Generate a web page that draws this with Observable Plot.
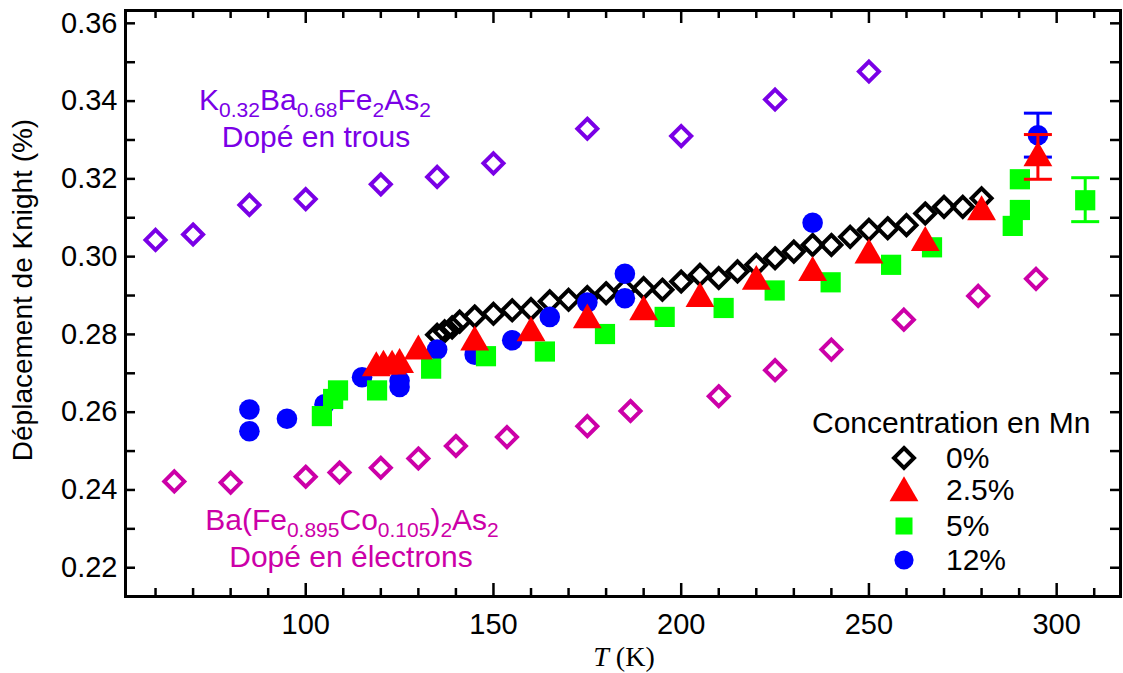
<!DOCTYPE html>
<html><head><meta charset="utf-8">
<script src="https://cdn.jsdelivr.net/npm/d3@7"></script>
<script src="https://cdn.jsdelivr.net/npm/@observablehq/plot@0.6"></script>
<style>
body{margin:0;background:#fff;}
#wrap{position:relative;width:1123px;height:673px;overflow:hidden;}
</style></head><body><div id="wrap"></div>
<script>
// ---- Data ----
const holeT = [60, 70, 85, 100, 120, 135, 150, 175, 200, 225, 250];
const holeK = [0.3043, 0.3057, 0.3133, 0.3148, 0.3186, 0.3205, 0.3240, 0.3329, 0.3310, 0.3404, 0.3476];

const elecT = [65, 80, 100, 109, 120, 130, 140, 153.6, 175, 186.5, 210, 225, 240, 259.3, 279.1, 294.5];
const elecK = [0.2422, 0.2419, 0.2434, 0.2445, 0.2457, 0.2481, 0.2513, 0.2536, 0.2564, 0.2603, 0.2641, 0.2708, 0.2761, 0.2838, 0.2899, 0.2943];

const mn0T = [135, 137, 139, 141, 145, 150, 155, 160, 165, 170, 175, 180, 185, 190, 195, 200, 205, 210, 215, 220, 225, 230, 235, 240, 245, 250, 255, 260, 265, 270, 275, 280];
const mn0K = [0.2799, 0.2808, 0.2818, 0.2833, 0.2846, 0.2853, 0.2862, 0.2865, 0.2885, 0.2889, 0.2896, 0.2906, 0.2915, 0.2919, 0.2915, 0.2936, 0.2953, 0.2945, 0.2962, 0.2979, 0.2996, 0.3013, 0.3030, 0.3030, 0.3051, 0.3069, 0.3073, 0.3081, 0.3111, 0.3128, 0.3128, 0.3150];

const mn25T = [118.8, 120.7, 123, 125, 130, 145, 160, 175, 190, 205, 220, 235, 250, 265, 280, 295];
const mn25K = [0.2714, 0.2718, 0.2718, 0.2722, 0.2757, 0.2780, 0.2804, 0.2837, 0.2858, 0.2892, 0.2936, 0.2959, 0.3004, 0.3036, 0.3115, 0.3254];

const mn5T = [104.3, 107.3, 108.6, 119, 133.4, 148, 163.7, 179.7, 195.6, 211.3, 224.9, 239.8, 255.9, 266.8, 288.3, 290.2, 290.2, 307.6];
const mn5K = [0.2590, 0.2634, 0.2656, 0.2656, 0.2712, 0.2744, 0.2756, 0.2801, 0.2845, 0.2868, 0.2913, 0.2934, 0.2979, 0.3024, 0.3079, 0.3120, 0.3199, 0.3145];

const mn12T = [85, 85, 95, 105, 115, 125, 125, 135, 145, 155, 165, 175, 185, 185, 235, 295];
const mn12K = [0.2607, 0.2551, 0.2583, 0.2620, 0.2690, 0.2681, 0.2665, 0.2761, 0.2748, 0.2785, 0.2845, 0.2882, 0.2893, 0.2956, 0.3087, 0.3312];

// error bars: [T, low, high]
const err12 = [[295, 0.3256, 0.3369]];
const err25 = [[295, 0.3199, 0.3314]];
const err5  = [[307.6, 0.3090, 0.3203]];

const xMajor = [100, 150, 200, 250, 300];
const xMinor = [60, 70, 80, 90, 110, 120, 130, 140, 160, 170, 180, 190, 210, 220, 230, 240, 260, 270, 280, 290, 310];
const xLabels = [100, 150, 200, 250, 300];
const yMajor = [0.22, 0.24, 0.26, 0.28, 0.30, 0.32, 0.34, 0.36];
const yMinor = [0.23, 0.25, 0.27, 0.29, 0.31, 0.33, 0.35];

const legendLabels = ["0%", "2.5%", "5%", "12%"];

// ---- Colours / styles ----
const cHole = "#7a00e6", cElec = "#cc00a8";
const cRed = "#ff0000", cGreen = "#00ff00", cBlue = "#0000ff";

const W = 1123, H = 673, mL = 125, mR = 3, mT = 10, mB = 77;
const fw = W - mL - mR, fh = H - mT - mB;

const zip = (T, K) => T.map((t, i) => ({T: t, K: K[i]}));
const errRows = e => e.map(([T, lo, hi]) => ({T, lo, hi}));

const capSymbol = {draw(ctx, size) { const w = Math.sqrt(size); ctx.moveTo(-w, 0); ctx.lineTo(w, 0); }};

function errMarks(e, color) {
  const rows = errRows(e);
  return [
    Plot.ruleX(rows, {x: "T", y1: "lo", y2: "hi", stroke: color, strokeWidth: 3}),
    Plot.dot(rows, {x: "T", y: "lo", symbol: capSymbol, r: 7.9, fill: "none", stroke: color, strokeWidth: 3}),
    Plot.dot(rows, {x: "T", y: "hi", symbol: capSymbol, r: 7.9, fill: "none", stroke: color, strokeWidth: 3})
  ];
}

const tk = {stroke: "black", strokeWidth: 2.5};
const yAll = yMajor.concat(yMinor);

const plot = Plot.plot({
  width: W, height: H,
  marginLeft: mL, marginRight: mR, marginTop: mT, marginBottom: mB,
  style: {fontFamily: "'Liberation Sans', Arial, sans-serif", background: "white"},
  x: {domain: [52, 317]},
  y: {domain: [0.2126, 0.3633]},
  marks: [
    Plot.dot(zip(holeT, holeK), {x: "T", y: "K", symbol: "diamond2", r: 9, fill: "none", stroke: cHole, strokeWidth: 4}),
    Plot.dot(zip(elecT, elecK), {x: "T", y: "K", symbol: "diamond2", r: 9, fill: "none", stroke: cElec, strokeWidth: 4}),
    Plot.dot(zip(mn0T, mn0K), {x: "T", y: "K", symbol: "diamond2", r: 9, fill: "none", stroke: "black", strokeWidth: 4}),
    ...errMarks(err12, cBlue),
    Plot.dot(zip(mn12T, mn12K), {x: "T", y: "K", symbol: "circle", r: 10.3, fill: cBlue}),
    Plot.dot(zip(mn5T, mn5K), {x: "T", y: "K", symbol: "square", r: 11.4, fill: cGreen}),
    ...errMarks(err5, cGreen),
    ...errMarks(err25, cRed),
    Plot.dot(zip(mn25T, mn25K), {x: "T", y: "K", symbol: "triangle", r: 10.7, fill: cRed}),
    // inward ticks on all four sides
    Plot.tickX(xMajor, {x: d => d, insetTop: fh - 13, ...tk}),
    Plot.tickX(xMinor, {x: d => d, insetTop: fh - 8, ...tk}),
    Plot.tickX(xMajor, {x: d => d, insetBottom: fh - 13, ...tk}),
    Plot.tickX(xMinor, {x: d => d, insetBottom: fh - 8, ...tk}),
    Plot.tickY(yAll, {y: d => d, insetRight: fw - 10, ...tk}),
    Plot.tickY(yAll, {y: d => d, insetLeft: fw - 10, ...tk}),
    // tick labels
    Plot.axisX({anchor: "bottom", ticks: xLabels, tickSize: 0, tickPadding: 17, fontSize: 29, label: null, fill: "black"}),
    Plot.axisY({anchor: "left", ticks: yMajor, tickSize: 0, tickPadding: 8, fontSize: 29, tickFormat: d3.format(".2f"), label: null, fill: "black"}),
    Plot.frame({stroke: "black", strokeWidth: 3})
  ]
});

const wrap = document.getElementById("wrap");
wrap.appendChild(plot);

const svg = d3.select(plot);
const FF = "'Liberation Sans', Arial, sans-serif";

// annotations with subscripts
function richText(x, y, parts, color, size, subSize) {
  const t = svg.append("text").attr("x", x).attr("y", y).attr("text-anchor", "middle")
    .attr("fill", color).attr("font-family", FF).attr("font-size", size);
  let low = false;
  parts.forEach(([s, sub]) => {
    const ts = t.append("tspan").text(s);
    if (sub) { ts.attr("font-size", subSize).attr("dy", low ? 0 : 7); low = true; }
    else { ts.attr("dy", low ? -7 : 0); low = false; }
  });
}
richText(315, 110, [["K"], ["0.32", 1], ["Ba"], ["0.68", 1], ["Fe"], ["2", 1], ["As"], ["2", 1]], cHole, 30, 21);
svg.append("text").attr("x", 316).attr("y", 147).attr("text-anchor", "middle").attr("fill", cHole)
  .attr("font-family", FF).attr("font-size", 30).text("Dopé en trous");
richText(352, 530, [["Ba(Fe"], ["0.895", 1], ["Co"], ["0.105", 1], [")"], ["2", 1], ["As"], ["2", 1]], cElec, 30, 21);
svg.append("text").attr("x", 351).attr("y", 567).attr("text-anchor", "middle").attr("fill", cElec)
  .attr("font-family", FF).attr("font-size", 30).text("Dopé en électrons");

// axis titles
svg.append("text").attr("transform", "translate(32,290) rotate(-90)").attr("text-anchor", "middle")
  .attr("font-family", FF).attr("font-size", 28).attr("fill", "black").text("Déplacement de Knight (%)");
const xt = svg.append("text").attr("x", 624).attr("y", 666).attr("text-anchor", "middle")
  .attr("font-family", "'Liberation Serif', 'Times New Roman', serif").attr("font-size", 28).attr("fill", "black");
xt.append("tspan").attr("font-style", "italic").text("T");
xt.append("tspan").text(" (K)");

// legend
const lg = svg.append("g").attr("font-family", FF).attr("fill", "black").attr("text-anchor", "start");
lg.append("text").attr("x", 812).attr("y", 433).attr("font-size", 30).text("Concentration en Mn");
const legSyms = [
  {sym: d3.symbolDiamond2, size: Math.PI * 81, fill: "none", stroke: "black", sw: 4},
  {sym: d3.symbolTriangle, size: Math.PI * 10.7 * 10.7, fill: cRed, stroke: "none", sw: 0},
  {sym: d3.symbolSquare, size: Math.PI * 9.6 * 9.6, fill: cGreen, stroke: "none", sw: 0},
  {sym: d3.symbolCircle, size: Math.PI * 9.6 * 9.6, fill: cBlue, stroke: "none", sw: 0}
];
const rowY = [458, 490, 526, 560];
legendLabels.forEach((lab, i) => {
  const s = legSyms[i];
  lg.append("path").attr("transform", `translate(904,${rowY[i] + (i === 1 ? 3 : 0)})`)
    .attr("d", d3.symbol(s.sym, s.size)()).attr("fill", s.fill).attr("stroke", s.stroke).attr("stroke-width", s.sw);
  lg.append("text").attr("x", 946).attr("y", rowY[i] + 10).attr("font-size", 30).text(lab);
});
</script></body></html>
